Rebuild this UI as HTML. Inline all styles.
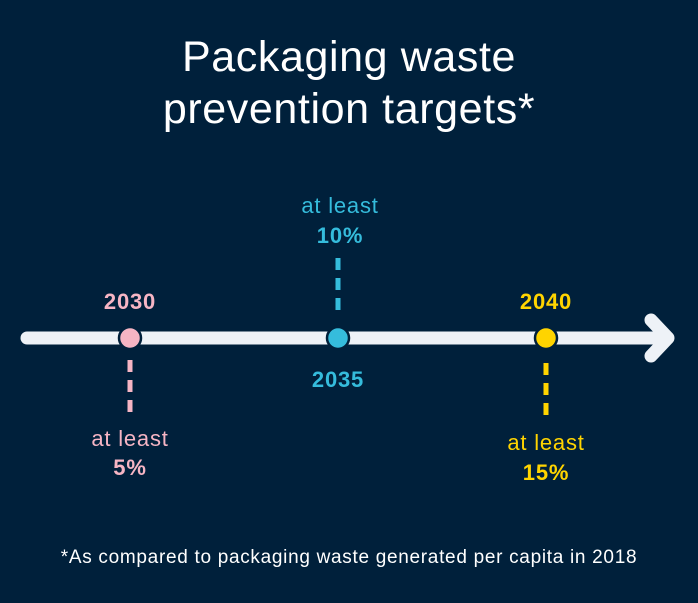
<!DOCTYPE html>
<html><head><meta charset="utf-8"><style>
body{margin:0;width:698px;height:603px;background:#00203b;overflow:hidden;font-family:"Liberation Sans",sans-serif}
svg{display:block}
</style></head><body>
<svg width="698" height="603" viewBox="0 0 698 603">
<rect width="698" height="603" fill="#00203b"/>
<text x="349" y="71" text-anchor="middle" fill="#fff" font-size="43" letter-spacing="0.6">Packaging waste</text>
<text x="349" y="123" text-anchor="middle" fill="#fff" font-size="43" letter-spacing="0.6">prevention targets*</text>
<line x1="27" y1="338" x2="664" y2="338" stroke="#eef2f7" stroke-width="13" stroke-linecap="round"/>
<polyline points="651,320 668,338 651,356" fill="none" stroke="#eef2f7" stroke-width="13" stroke-linecap="round" stroke-linejoin="round"/>
<g stroke="#00203b" stroke-width="2.5">
<circle cx="130" cy="338" r="11" fill="#f6b5c4"/>
<circle cx="338" cy="338" r="11" fill="#35bcdc"/>
<circle cx="546" cy="338" r="11" fill="#ffd400"/>
</g>
<line x1="130" y1="360" x2="130" y2="413" stroke="#f6b5c4" stroke-width="5" stroke-dasharray="12 8"/>
<line x1="338" y1="258" x2="338" y2="312" stroke="#35bcdc" stroke-width="5" stroke-dasharray="12 8"/>
<line x1="546" y1="363" x2="546" y2="416" stroke="#ffd400" stroke-width="5" stroke-dasharray="12 8"/>
<g font-size="22" text-anchor="middle" letter-spacing="0.8">
<text x="130" y="309" fill="#f6b5c4" font-weight="bold">2030</text>
<text x="130" y="446" fill="#f6b5c4">at least</text>
<text x="130" y="475" fill="#f6b5c4" font-weight="bold">5%</text>
<text x="340" y="213" fill="#35bcdc">at least</text>
<text x="340" y="243" fill="#35bcdc" font-weight="bold">10%</text>
<text x="338" y="387" fill="#35bcdc" font-weight="bold">2035</text>
<text x="546" y="309" fill="#ffd400" font-weight="bold">2040</text>
<text x="546" y="450" fill="#ffd400">at least</text>
<text x="546" y="480" fill="#ffd400" font-weight="bold">15%</text>
</g>
<text x="349" y="563" text-anchor="middle" fill="#fff" font-size="19" letter-spacing="0.7">*As compared to packaging waste generated per capita in 2018</text>
</svg>
</body></html>
